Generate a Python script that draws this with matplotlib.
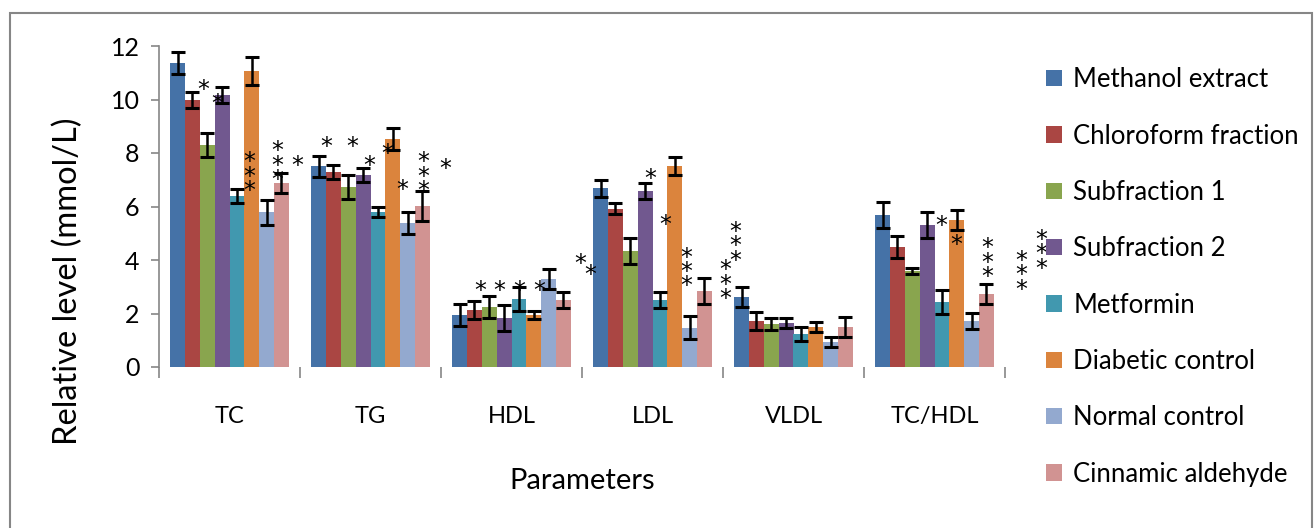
import numpy as np
import matplotlib
matplotlib.use("Agg")
import matplotlib.pyplot as plt
from matplotlib.patches import Rectangle, Patch
from matplotlib.font_manager import FontProperties

plt.rcParams["font.family"] = ["Lato", "DejaVu Sans"]

parameters = ["TC", "TG", "HDL", "LDL", "VLDL", "TC/HDL"]
groups = [
    "Methanol extract",
    "Chloroform fraction",
    "Subfraction 1",
    "Subfraction 2",
    "Metformin",
    "Diabetic control",
    "Normal control",
    "Cinnamic aldehyde",
]
colors = ["#4572A7", "#AA4643", "#89A54E", "#71588F",
          "#4198AF", "#DB843D", "#93A9CF", "#D19392"]

# mean values, one list per group, in the order of parameters
methanol = [11.35, 7.51, 1.94, 6.68, 2.62, 5.68]
chloroform = [9.98, 7.29, 2.13, 5.92, 1.72, 4.49]
sub1 = [8.30, 6.73, 2.24, 4.34, 1.61, 3.59]
sub2 = [10.17, 7.18, 1.83, 6.58, 1.64, 5.31]
metformin = [6.39, 5.79, 2.54, 2.50, 1.23, 2.43]
diabetic = [11.07, 8.52, 1.94, 7.51, 1.50, 5.50]
normal = [5.79, 5.38, 3.29, 1.47, 0.93, 1.72]
cinnamic = [6.88, 6.02, 2.50, 2.84, 1.50, 2.73]

# standard errors
methanol_err = [0.41, 0.39, 0.42, 0.31, 0.36, 0.47]
chloroform_err = [0.30, 0.27, 0.33, 0.20, 0.35, 0.40]
sub1_err = [0.44, 0.45, 0.41, 0.50, 0.21, 0.10]
sub2_err = [0.29, 0.26, 0.50, 0.29, 0.20, 0.47]
metformin_err = [0.27, 0.18, 0.46, 0.30, 0.25, 0.44]
diabetic_err = [0.53, 0.40, 0.15, 0.35, 0.20, 0.37]
normal_err = [0.47, 0.42, 0.37, 0.42, 0.20, 0.30]
cinnamic_err = [0.36, 0.56, 0.30, 0.47, 0.36, 0.36]

values = [methanol, chloroform, sub1, sub2, metformin, diabetic, normal, cinnamic]
errors = [methanol_err, chloroform_err, sub1_err, sub2_err,
          metformin_err, diabetic_err, normal_err, cinnamic_err]

# significance marks as placed on the figure: x in category units,
# y of the top star in mmol/L, and how many stars are stacked there
star_x = [-0.188, -0.089, 0.138, 0.337, 0.479,
          0.684, 0.870, 0.989, 1.122, 1.223, 1.372, 1.533,
          1.777, 1.911, 2.053, 2.195,
          2.486, 2.557, 2.987, 3.089, 3.241, 3.514,
          3.585,
          5.051, 5.155, 5.374, 5.617, 5.755]
star_y = [10.65, 10.13, 7.93, 8.34, 7.81,
          8.52, 8.52, 7.80, 8.26, 6.90, 7.93, 7.67,
          3.13, 3.13, 3.13, 3.13,
          4.15, 3.71, 7.33, 5.58, 4.37, 3.90,
          5.33,
          5.56, 4.85, 4.72, 4.25, 5.04]
star_n = [1, 1, 3, 3, 1,
          1, 1, 1, 1, 1, 3, 1,
          1, 1, 1, 1,
          1, 1, 1, 1, 3, 3,
          3,
          1, 1, 3, 3, 3]

W, H = 1314, 528
DPI = 100
fig = plt.figure(figsize=(W / DPI, H / DPI), dpi=DPI)
ax = fig.add_axes([159 / W, 1 - 367 / H, (1005 - 159) / W, (367 - 46) / H])

x = np.arange(len(parameters))
n = len(groups)
width = 1 / (n + 1.5)
for i in range(n):
    offs = (i - (n - 1) / 2) * width
    ax.bar(x + offs, values[i], width, color=colors[i], label=groups[i], zorder=2)
    ax.errorbar(x + offs, values[i], yerr=errors[i], fmt="none", ecolor="black",
                elinewidth=1.8, capsize=5, capthick=2.2, zorder=3)

# stacked stars: work out line spacing so the stars sit ~14.4 px apart
star_font = FontProperties(family="DejaVu Sans", size=17)
renderer = fig.canvas.get_renderer()
_, lp_h, lp_d = renderer.get_text_width_height_descent("lp", star_font, ismath=False)
pitch_px = 14.4
drop_px = 10.5 * DPI / 72          # glyph baseline sits this far below the anchor
star_ls = (pitch_px - lp_d) / (lp_h - lp_d)
star_off = ((lp_h - lp_d) - drop_px) * 72 / DPI

for sx, sy, k in zip(star_x, star_y, star_n):
    ax.annotate("\n".join(["*"] * k), xy=(sx, sy), xytext=(0, star_off),
                textcoords="offset points", ha="center", va="top",
                fontproperties=star_font, linespacing=star_ls,
                annotation_clip=False, zorder=4)

ax.set_xlim(-0.5, len(parameters) - 0.5)
ax.set_ylim(0, 12)
ax.set_yticks(range(0, 13, 2))
ax.set_xticks(np.arange(-0.5, len(parameters), 1))
ax.set_xticklabels([])
ax.set_xticks(x, minor=True)
ax.set_xticklabels(parameters, minor=True)
ax.tick_params(axis="x", which="major", length=8, width=1.2, color="#868686")
ax.tick_params(axis="x", which="minor", length=0, pad=28, labelsize=17)
ax.tick_params(axis="y", length=6, width=1.2, color="#868686", pad=8, labelsize=18)
for side in ["top", "right", "bottom"]:
    ax.spines[side].set_visible(False)
ax.spines["left"].set_color("#868686")
ax.spines["left"].set_linewidth(1.2)

fig.text(68 / W, 1 - 281 / H, "Relative level (mmol/L)", rotation=90,
         ha="center", va="center", fontsize=23.5)
fig.text(582 / W, 1 - 481 / H, "Parameters", ha="center", va="center", fontsize=21)

handles = [Patch(facecolor=c, label=g) for c, g in zip(colors, groups)]
fig.legend(handles=handles, loc="upper left", bbox_to_anchor=(1036 / W, 1 - 57 / H),
           frameon=False, fontsize=18.5, handlelength=0.6, handleheight=0.6,
           handletextpad=0.45, labelspacing=1.22, borderaxespad=0)

fig.patches.append(Rectangle((10 / W, -0.1), (1312 - 10) / W, 1.1 - 13 / H,
                             transform=fig.transFigure, fill=False,
                             edgecolor="#868686", linewidth=1.5))

fig.savefig("out.png", dpi=DPI)
